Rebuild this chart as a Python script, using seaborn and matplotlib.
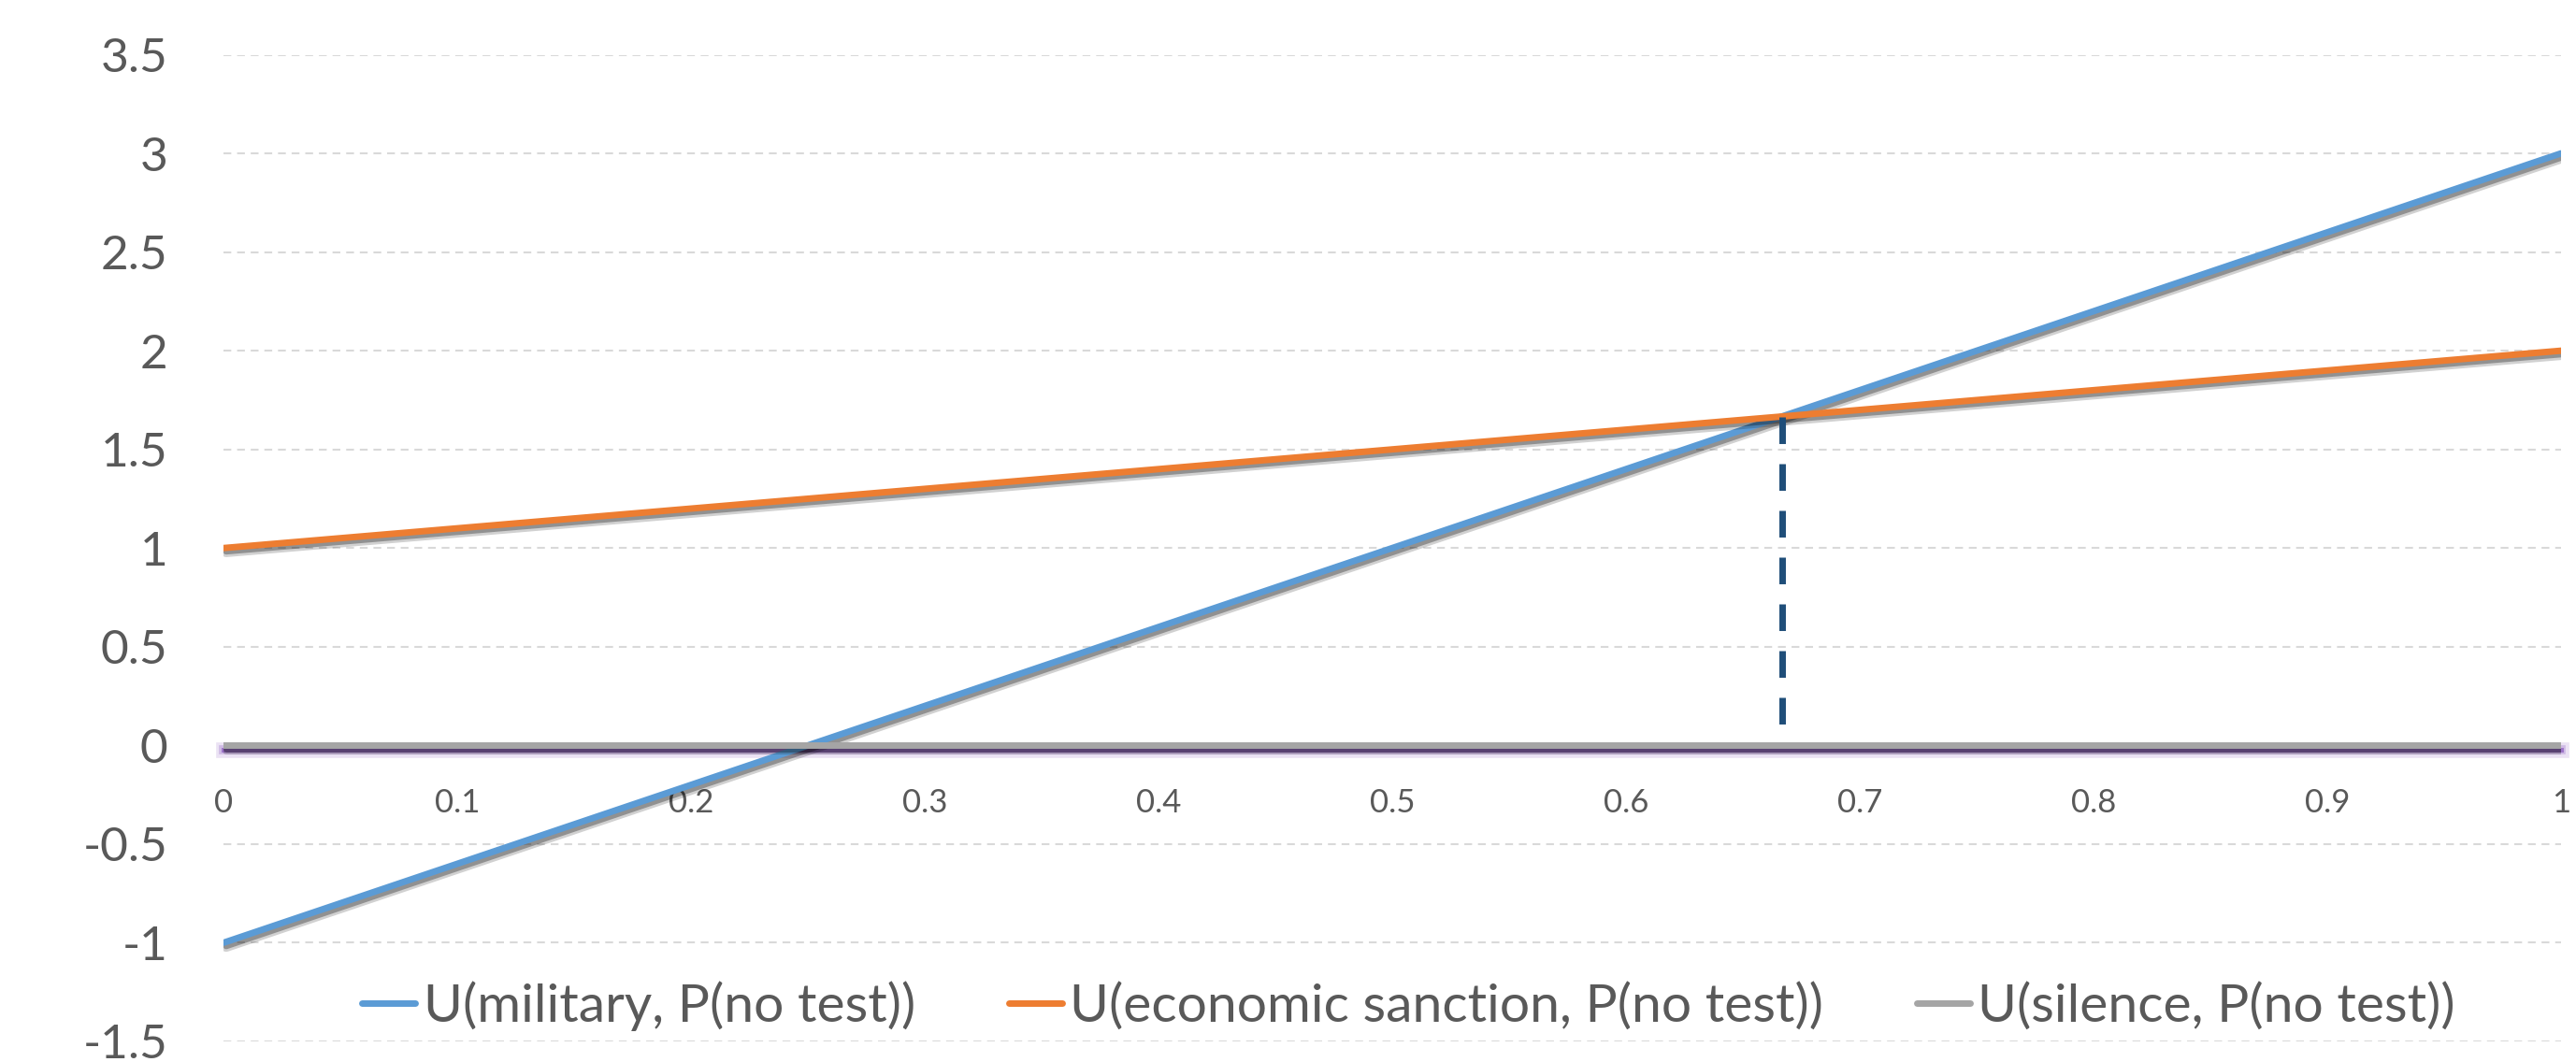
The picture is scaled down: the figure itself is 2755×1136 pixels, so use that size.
"""Expected utility of each response as a function of P(no test)."""
import matplotlib.pyplot as plt
import matplotlib.patheffects as pe
from matplotlib.lines import Line2D
import numpy as np
import pandas as pd
import seaborn as sns

# Data
p_no_test = [0.0, 0.1, 0.2, 0.3, 0.4, 0.5, 0.6, 0.7, 0.8, 0.9, 1.0]
u_military = [-1.0, -0.6, -0.2, 0.2, 0.6, 1.0, 1.4, 1.8, 2.2, 2.6, 3.0]
u_economic = [1.0, 1.1, 1.2, 1.3, 1.4, 1.5, 1.6, 1.7, 1.8, 1.9, 2.0]
u_silence = [0.0, 0.0, 0.0, 0.0, 0.0, 0.0, 0.0, 0.0, 0.0, 0.0, 0.0]
series_names = [
    "U(military, P(no test))",
    "U(economic sanction, P(no test))",
    "U(silence, P(no test))",
]
series_colors = ["#5B9BD5", "#ED7D31", "#A5A5A5"]

# Crossing point of military and economic sanction, marked with a dashed drop line
cross_x = 2 / 3
cross_y = 5 / 3
drop_bottom = 0.08

y_ticks = [-1.5, -1, -0.5, 0, 0.5, 1, 1.5, 2, 2.5, 3, 3.5]
x_ticks = [0, 0.1, 0.2, 0.3, 0.4, 0.5, 0.6, 0.7, 0.8, 0.9, 1]

# Long format table for seaborn
df = pd.DataFrame(
    {
        "p": p_no_test * 3,
        "u": u_military + u_economic + u_silence,
        "series": np.repeat(series_names, len(p_no_test)),
    }
)

sns.set_style("white")
plt.rcParams["font.family"] = ["Lato", "DejaVu Sans"]
text_color = "#595959"
purple = "#9B72C8"

fig = plt.figure(figsize=(27.55, 11.36), dpi=100)
ax = fig.add_axes([0.0868, 0.0194, 0.9074, 0.9291])

# Dashed grid lines
for y in y_ticks:
    ax.axhline(y, color="#D9D9D9", lw=1.5, ls=(0, (4, 3)), zorder=0)

# Series lines with a soft drop shadow
sns.lineplot(
    data=df,
    x="p",
    y="u",
    hue="series",
    hue_order=series_names,
    palette=dict(zip(series_names, series_colors)),
    linewidth=5,
    legend=False,
    ax=ax,
    zorder=3,
)
for line in ax.lines[-3:]:
    line.set_path_effects(
        [
            pe.SimpleLineShadow(offset=(2, -3), shadow_color="k", alpha=0.18, linewidth=8),
            pe.SimpleLineShadow(offset=(2, -2.5), shadow_color="k", alpha=0.3),
            pe.Normal(),
        ]
    )

# Drop line at the crossing point
ax.plot(
    [cross_x, cross_x],
    [cross_y, drop_bottom],
    color="#1F4E79",
    lw=5,
    ls=(0, (4.1, 3.1)),
    dash_capstyle="butt",
    zorder=4,
)

ax.set_xlim(0, 1)
ax.set_ylim(-1.5, 3.5)
ax.set_xticks(x_ticks)
ax.set_xticklabels([f"{v:g}" for v in x_ticks])
ax.set_yticks(y_ticks)
ax.set_yticklabels([f"{v:g}" for v in y_ticks])
ax.set_xlabel("")
ax.set_ylabel("")

for side in ["top", "right", "left"]:
    ax.spines[side].set_visible(False)
ax.spines["bottom"].set_position(("data", 0))
ax.spines["bottom"].set_color(purple)
ax.spines["bottom"].set_linewidth(4)
ax.spines["bottom"].set_zorder(2)
ax.spines["bottom"].set_path_effects(
    [
        pe.Stroke(offset=(0, -3.5), linewidth=12, foreground=purple, alpha=0.2),
        pe.Stroke(offset=(0, -3.5), linewidth=7, foreground=purple, alpha=0.35),
        pe.Stroke(offset=(0, -3.5), linewidth=3.5, foreground=purple),
    ]
)

ax.tick_params(
    axis="x", direction="out", length=6, width=1, color="#BFBFBF",
    pad=27, labelsize=25, labelcolor=text_color,
)
ax.tick_params(axis="y", length=0, pad=43, labelsize=37, labelcolor=text_color)

handles = [
    Line2D([0], [0], color=c, lw=5, solid_capstyle="round") for c in series_colors
]
ax.legend(
    handles,
    series_names,
    loc="center",
    bbox_to_anchor=(0.507, 0.036),
    ncol=3,
    frameon=False,
    fontsize=41,
    labelcolor=text_color,
    handlelength=1.0,
    handletextpad=0.15,
    columnspacing=1.75,
)

fig.savefig("out.png", dpi=100, facecolor="white")
